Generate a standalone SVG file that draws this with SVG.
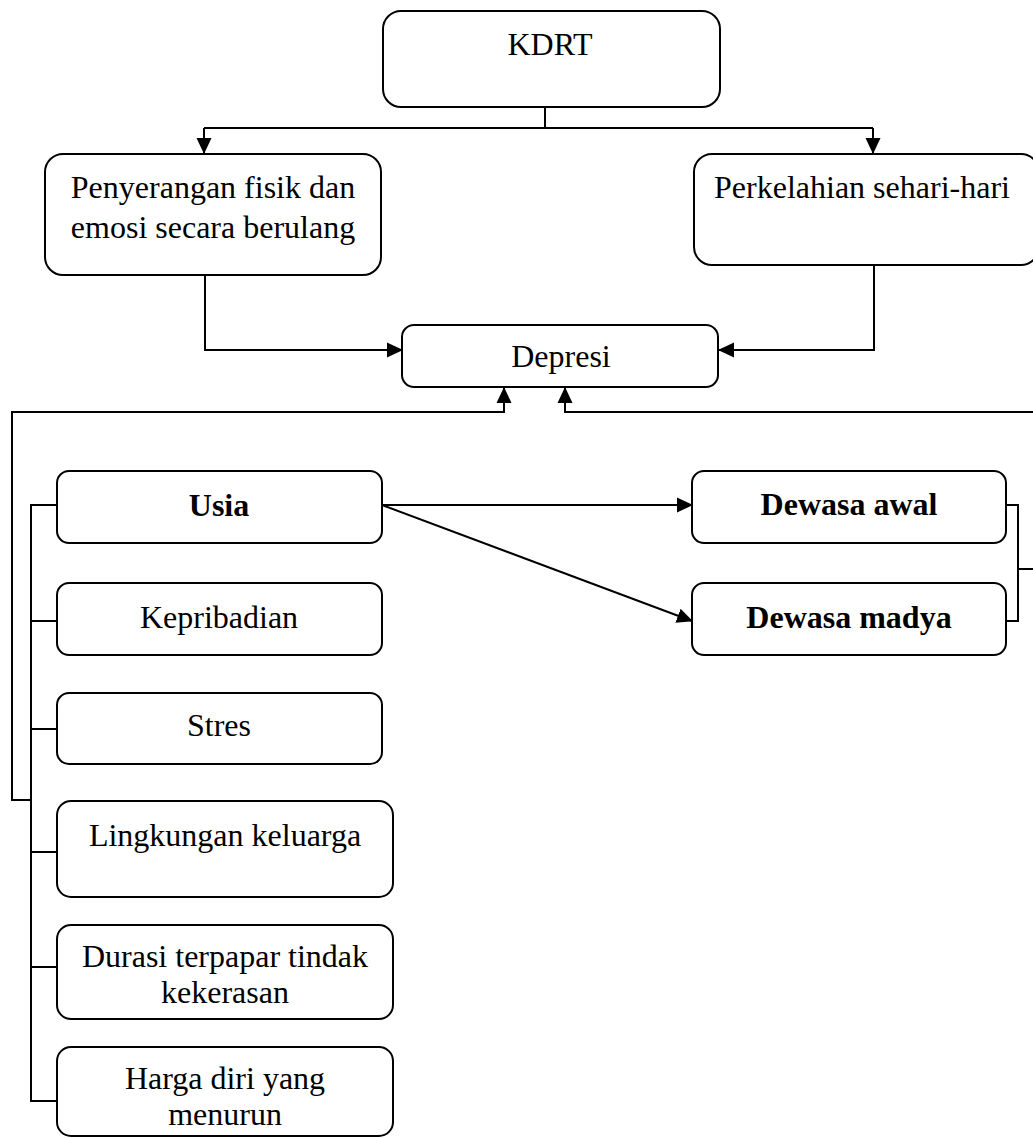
<svg xmlns="http://www.w3.org/2000/svg" width="1033" height="1138" viewBox="0 0 1033 1138">
<style>
.box{fill:#fff;stroke:#000;stroke-width:2}
.t{font-family:"Liberation Serif","Times New Roman",serif;font-size:32px;fill:#000;text-anchor:middle}
.b{font-weight:bold}
.c{fill:none;stroke:#000;stroke-width:2}
</style>
<defs>
<marker id="ah" markerUnits="userSpaceOnUse" markerWidth="16" markerHeight="16" viewBox="0 0 16 16" refX="15" refY="8" orient="auto">
<path d="M0,0.5 L16,8 L0,15.5 Z" fill="#000"/>
</marker>
</defs>
<rect width="1033" height="1138" fill="#fff"/>
<g id="connectors">
<path class="c" d="M545,107 V128 M204,128 H873"/>
<path class="c" d="M204,128 V153" marker-end="url(#ah)"/>
<path class="c" d="M873,128 V153" marker-end="url(#ah)"/>
<path class="c" d="M205,275 V350 H402" marker-end="url(#ah)"/>
<path class="c" d="M874,265 V350 H719" marker-end="url(#ah)"/>
<path class="c" d="M31,800 H12 V412 H504 V388" marker-end="url(#ah)"/>
<path class="c" d="M1035,412 H565 V388" marker-end="url(#ah)"/>
<path class="c" d="M57,505 H31 V1101 H57 M31,621 H57 M31,729 H57 M31,852 H57 M31,967 H57"/>
<path class="c" d="M382,505 H692" marker-end="url(#ah)"/>
<path class="c" d="M382,505 L692,621" marker-end="url(#ah)"/>
<path class="c" d="M1006,505 H1018 V621 H1006 M1018,569 H1035"/>
</g>
<g id="kdrt"><rect class="box" x="383" y="11" width="337" height="96" rx="18"/><text class="t" x="550" y="55">KDRT</text></g>
<g id="penyerangan"><rect class="box" x="45" y="154" width="336" height="121" rx="18"/><text class="t" x="213" y="198">Penyerangan fisik dan</text><text class="t" x="213" y="238">emosi secara berulang</text></g>
<g id="perkelahian"><rect class="box" x="694" y="154" width="345" height="111" rx="18"/><text class="t" x="862" y="198">Perkelahian sehari-hari</text></g>
<g id="depresi"><rect class="box" x="402" y="325" width="316" height="62" rx="12"/><text class="t" x="561" y="367">Depresi</text></g>
<g id="usia"><rect class="box" x="57" y="471" width="325" height="72" rx="12"/><text class="t b" x="219" y="516">Usia</text></g>
<g id="kepribadian"><rect class="box" x="57" y="583" width="325" height="72" rx="12"/><text class="t" x="219" y="628">Kepribadian</text></g>
<g id="stres"><rect class="box" x="57" y="693" width="325" height="71" rx="12"/><text class="t" x="219" y="736">Stres</text></g>
<g id="lingkungan"><rect class="box" x="57" y="801" width="336" height="96" rx="14"/><text class="t" x="225" y="846">Lingkungan keluarga</text></g>
<g id="durasi"><rect class="box" x="57" y="925" width="336" height="94" rx="14"/><text class="t" x="225" y="967">Durasi terpapar tindak</text><text class="t" x="225" y="1003">kekerasan</text></g>
<g id="harga"><rect class="box" x="57" y="1047" width="336" height="89" rx="14"/><text class="t" x="225" y="1089">Harga diri yang</text><text class="t" x="225" y="1125">menurun</text></g>
<g id="dewasa-awal"><rect class="box" x="692" y="471" width="314" height="72" rx="12"/><text class="t b" x="849" y="515">Dewasa awal</text></g>
<g id="dewasa-madya"><rect class="box" x="692" y="583" width="314" height="72" rx="12"/><text class="t b" x="849" y="628">Dewasa madya</text></g>
</svg>
